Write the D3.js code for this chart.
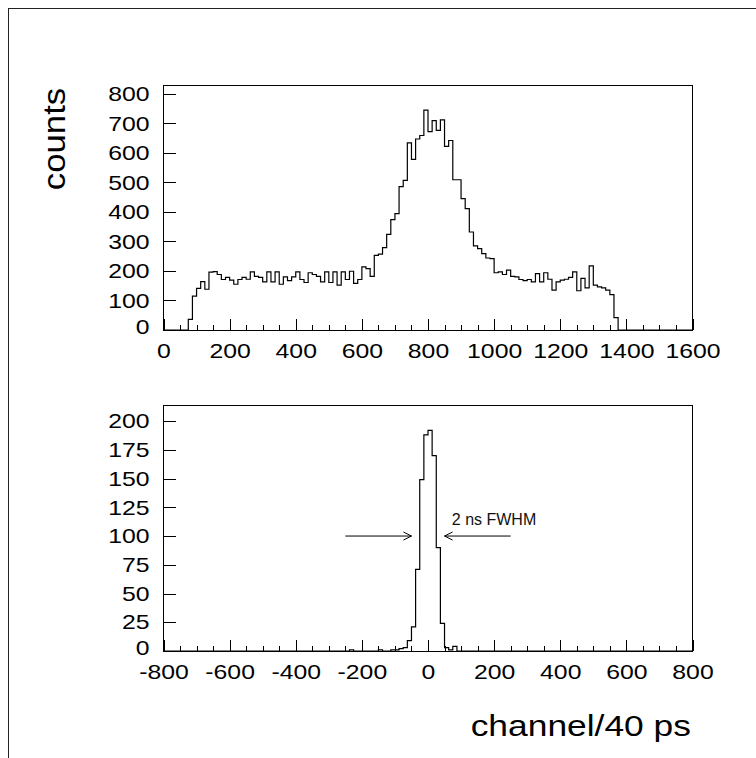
<!DOCTYPE html>
<html lang="en">
<head>
<meta charset="utf-8">
<title>counts</title>
<script src="https://cdn.jsdelivr.net/npm/d3@7"></script>
<style>
body { margin: 0; background: #fff; }
svg { display: block; font-family: "Liberation Sans", Arial, sans-serif; }
.outer { fill: none; stroke: #222; stroke-width: 1; shape-rendering: crispEdges; }
.frame { fill: none; stroke: #000; stroke-width: 1; shape-rendering: crispEdges; }
.hist { fill: none; stroke: #000; stroke-width: 1.2; }
.axis line { stroke: #000; shape-rendering: crispEdges; }
.axis text { font-size: 21px; fill: #000; }
.arrow { fill: none; stroke: #000; stroke-width: 1; }
</style>
</head>
<body>
<script>
var w = 756, h = 758;

// top histogram: 128 bins of 12.5 channels starting at 0
var topStart = 0, topBin = 12.5;
var topCounts = [0, 0, 0, 0, 0, 0, 36, 115, 141, 164,
  138, 196, 198, 188, 171, 178, 169, 155, 171, 178,
  172, 197, 182, 178, 163, 197, 163, 197, 155, 180,
  167, 180, 197, 171, 161, 194, 188, 182, 163, 197,
  161, 197, 152, 197, 171, 199, 158, 171, 214, 208,
  182, 253, 257, 279, 324, 374, 394, 486, 507, 634,
  578, 647, 659, 745, 672, 709, 676, 712, 622, 642,
  509, 509, 445, 411, 332, 285, 276, 259, 244, 242,
  194, 197, 188, 203, 182, 180, 171, 167, 171, 163,
  191, 163, 194, 172, 135, 163, 169, 172, 178, 197,
  133, 175, 143, 217, 152, 146, 143, 135, 120, 42,
  0, 0, 0, 0, 0, 0, 0, 0, 0, 0,
  0, 0, 0, 0, 0, 0, 0, 0];
var topXTicks = [0, 200, 400, 600, 800, 1000, 1200, 1400, 1600];
var topYTicks = [0, 100, 200, 300, 400, 500, 600, 700, 800];

// bottom histogram: 128 bins of 12.5 channels starting at -800
var botStart = -800, botBin = 12.5;
var botCounts = [0, 0, 0, 0, 0, 0, 0, 0, 0, 0,
  0, 0, 0, 0, 0, 0, 0, 0, 0, 0,
  0, 0, 0, 0, 0, 0, 0, 0, 0, 0,
  0, 0, 0, 0, 0, 0, 0, 0, 0, 0,
  0, 0, 0, 0, 0, 1, 0, 0, 0, 0,
  0, 0, 1, 0, 0, 1, 1, 2, 3, 9,
  21, 71, 149, 188, 192, 170, 90, 24, 3, 1,
  4, 0, 0, 0, 0, 0, 0, 0, 0, 0,
  0, 0, 0, 0, 0, 0, 0, 0, 0, 0,
  0, 0, 0, 0, 0, 0, 0, 0, 0, 0,
  0, 0, 0, 0, 0, 0, 0, 0, 0, 0,
  0, 0, 0, 0, 0, 0, 0, 0, 0, 0,
  0, 0, 0, 0, 0, 0, 0, 0];
var botXTicks = [-800, -600, -400, -200, 0, 200, 400, 600, 800];
var botYTicks = [0, 25, 50, 75, 100, 125, 150, 175, 200];

// FWHM arrows (x from, x to) at y = 100
var arrows = [[-250, -50], [250, 50]];
var arrowY = 100;

var svg = d3.select("body").append("svg")
  .attr("width", w)
  .attr("height", h);

svg.append("rect").attr("class", "outer")
  .attr("x", 8.5).attr("y", 8.5)
  .attr("width", 800).attr("height", 800);

function panel(counts, start, bin, xDom, yMax, xTicks, yTicks, top, bottom) {
  var left = 163.5, right = 692.5;
  var x = d3.scaleLinear().domain(xDom).range([left, right]);
  var y = d3.scaleLinear().domain([0, yMax]).range([bottom, top]);

  var pts = [[start, 0]];
  counts.forEach(function (c, i) {
    pts.push([start + i * bin, c]);
    pts.push([start + (i + 1) * bin, c]);
  });
  pts.push([start + counts.length * bin, 0]);

  svg.append("path").attr("class", "hist")
    .attr("d", d3.line().x(function (d) { return x(d[0]); }).y(function (d) { return y(d[1]); })(pts));

  // minor ticks every 50
  svg.append("g").attr("class", "axis")
    .attr("transform", "translate(0," + bottom + ")")
    .call(d3.axisBottom(x).tickValues(d3.range(xDom[0], xDom[1] + 1, 50)).tickSize(-5).tickFormat(""))
    .call(function (g) { g.select(".domain").remove(); });

  svg.append("g").attr("class", "axis")
    .attr("transform", "translate(0," + bottom + ")")
    .call(d3.axisBottom(x).tickValues(xTicks).tickSizeInner(-11).tickSizeOuter(0).tickPadding(13)
      .tickFormat(function (d) { return String(d); }))
    .call(function (g) { g.select(".domain").remove(); });

  var ya = svg.append("g").attr("class", "axis")
    .attr("transform", "translate(" + left + ",0)")
    .call(d3.axisLeft(y).tickValues(yTicks).tickSizeInner(-12).tickSizeOuter(0).tickPadding(14)
      .tickFormat(function (d) { return String(d); }))
    .call(function (g) { g.select(".domain").remove(); });
  // the zero label sits just above the x labels
  ya.selectAll(".tick text").filter(function (d) { return d === 0; }).attr("dy", "0.18em");

  svg.append("rect").attr("class", "frame")
    .attr("x", left).attr("y", top)
    .attr("width", right - left).attr("height", bottom - top);

  return { x: x, y: y };
}

panel(topCounts, topStart, topBin, [0, 1600], 830, topXTicks, topYTicks, 85, 330);
var b = panel(botCounts, botStart, botBin, [-800, 800], 214, botXTicks, botYTicks, 405, 651);

arrows.forEach(function (a) {
  var x0 = b.x(a[0]), x1 = b.x(a[1]), yy = b.y(arrowY);
  var dir = x1 > x0 ? 1 : -1;
  svg.append("path").attr("class", "arrow")
    .attr("d", "M" + x0 + "," + yy + "L" + x1 + "," + yy +
      "M" + (x1 - dir * 8) + "," + (yy - 4) + "L" + x1 + "," + yy + "L" + (x1 - dir * 8) + "," + (yy + 4));
});

svg.append("text")
  .attr("x", b.x(72)).attr("y", b.y(109.5))
  .style("font-size", "16px").style("fill", "#111")
  .text("2 ns FWHM");

svg.append("text").attr("class", "stretch")
  .attr("transform", "translate(65,139) rotate(-90)")
  .attr("text-anchor", "middle")
  .style("font-size", "31px")
  .attr("data-k", 1.12)
  .text("counts");

svg.append("text").attr("class", "stretch")
  .attr("x", 691).attr("y", 736)
  .attr("text-anchor", "end")
  .style("font-size", "29px")
  .attr("data-k", 1.22)
  .text("channel/40 ps");

// the original lettering is a bit wider than Arial
svg.selectAll(".axis .tick text").attr("data-k", 1.18);
svg.selectAll("text[data-k]").each(function () {
  var t = d3.select(this);
  var len = this.getComputedTextLength();
  if (len > 0) t.attr("textLength", len * +t.attr("data-k")).attr("lengthAdjust", "spacingAndGlyphs");
});
</script>
</body>
</html>
